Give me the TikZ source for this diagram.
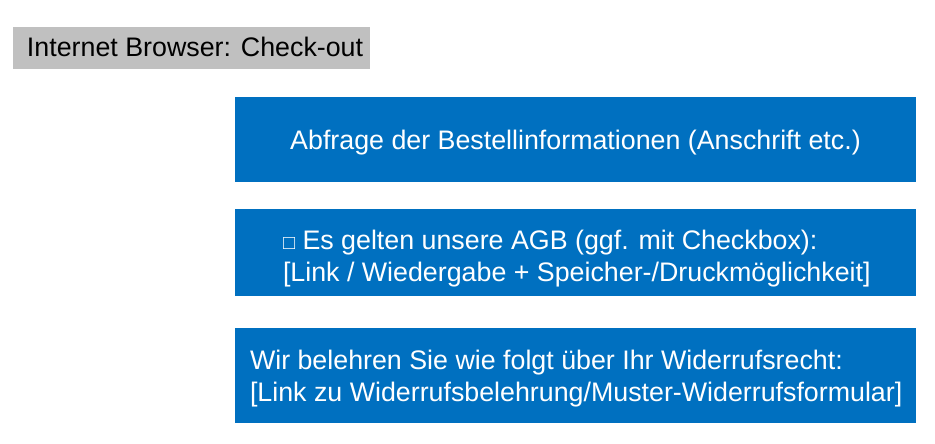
\documentclass[tikz,border=0pt]{standalone}
\usepackage{fontspec}
\setmainfont{Liberation Sans}
\definecolor{boxblue}{HTML}{0070C0}
\definecolor{titlegray}{HTML}{C0C0C0}
\begin{document}
\begin{tikzpicture}[x=1pt,y=-1pt,
  panel/.style={draw=none, inner sep=0pt, outer sep=0pt, anchor=north west, minimum width=681pt},
  bluepanel/.style={panel, fill=boxblue},
  graypanel/.style={draw=none, inner sep=0pt, outer sep=0pt, anchor=north west, fill=titlegray, minimum width=357pt, minimum height=42pt},
  txt/.style={inner sep=0pt, outer sep=0pt, font=\fontsize{26.8}{32}\selectfont},
  whitetxt/.style={txt, text=white},
  blacktxt/.style={txt, text=black}]
\useasboundingbox (0,0) rectangle (935,444);
% title
\node[graypanel] (title) at (13,27) {};
\node[blacktxt, anchor=base west] (titletext) at (27,56.5) {Internet Browser: Check-out};
% panels
\node[bluepanel, minimum height=85pt] (p1) at (235,97) {};
\node[bluepanel, minimum height=87pt] (p2) at (235,209) {};
\node[bluepanel, minimum height=95pt] (p3) at (235,328) {};
% texts
\node[whitetxt, anchor=base] (t1) at (575.5,149.3) {Abfrage der Bestellinformationen (Anschrift etc.)};
\node[whitetxt, anchor=base west] (t2a) at (283,249.5) {{\fontsize{20}{20}\selectfont □} Es gelten unsere AGB (ggf. mit Checkbox):};
\node[whitetxt, anchor=base west] (t2b) at (283,281.5) {[Link / Wiedergabe + Speicher-/Druckmöglichkeit]};
\node[whitetxt, anchor=base west] (t3a) at (250,369.3) {Wir belehren Sie wie folgt über Ihr Widerrufsrecht:};
\node[whitetxt, anchor=base west] (t3b) at (250,401.3) {[Link zu Widerrufsbelehrung/Muster-Widerrufsformular]};
\end{tikzpicture}
\end{document}
